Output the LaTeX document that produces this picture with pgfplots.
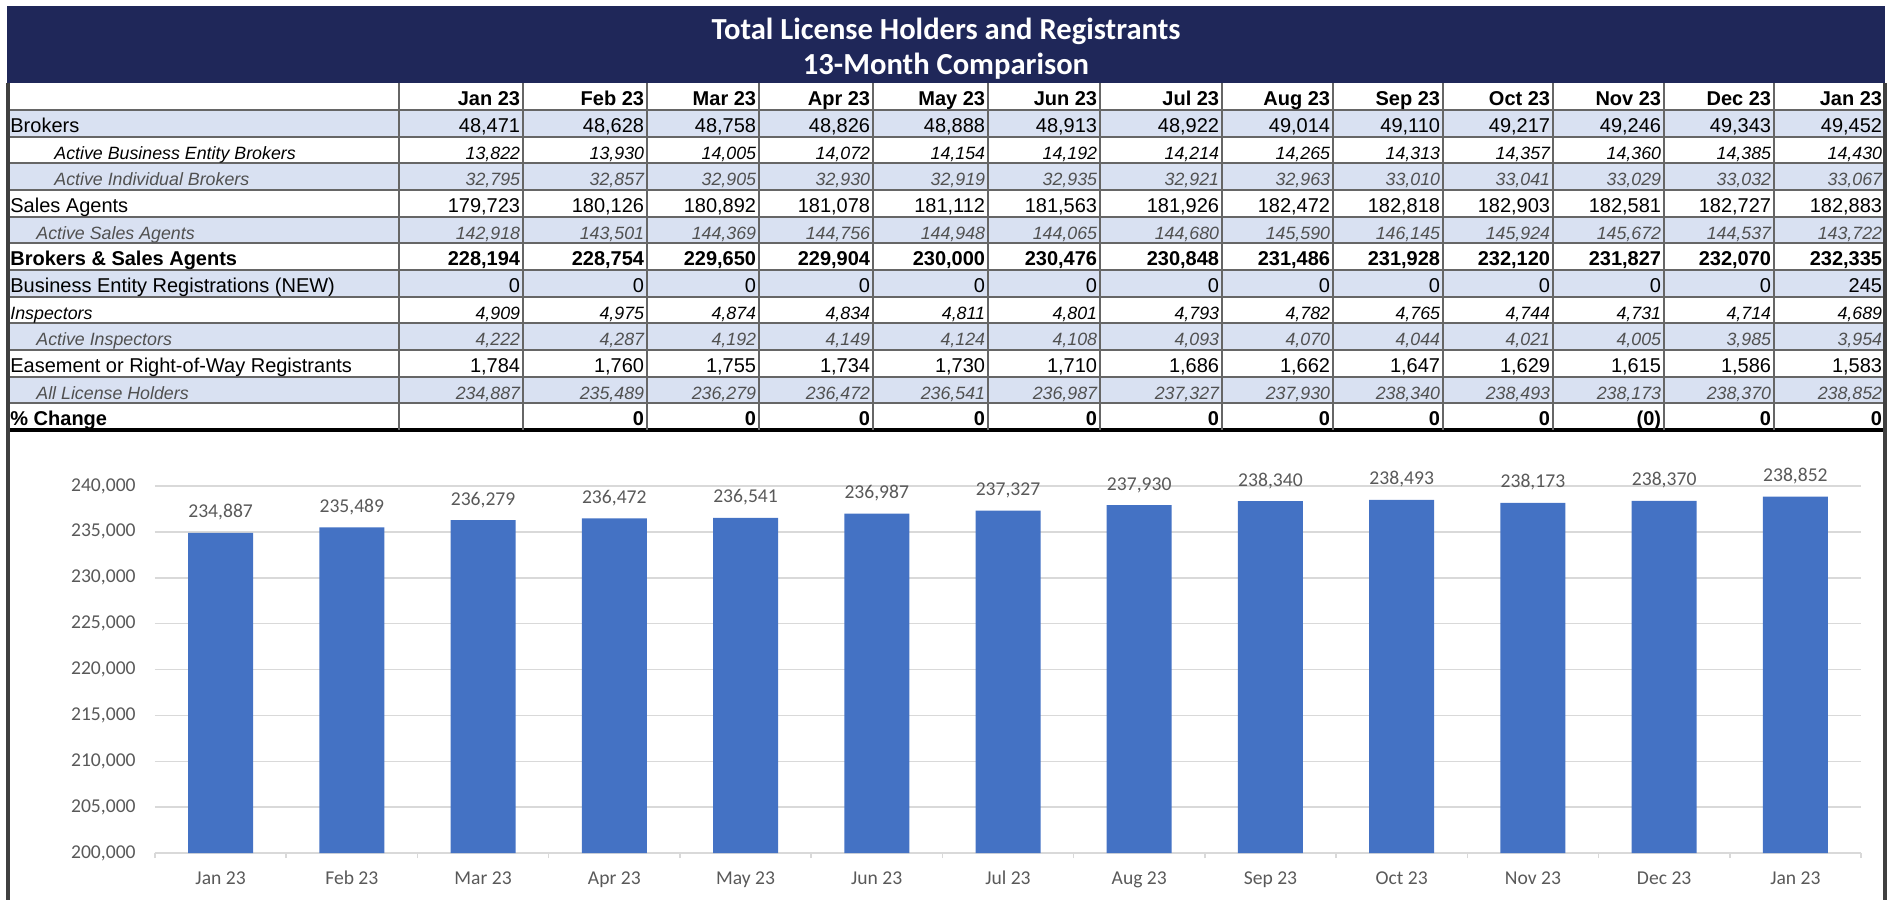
\documentclass[border=0pt]{standalone}
\usepackage{pgfplots}
\pgfplotsset{compat=1.18}
\usepackage{fontspec}
\setmainfont{Liberation Sans}
\newfontfamily\calibri{Carlito}
\definecolor{navy}{RGB}{31,39,89}
\definecolor{rowblue}{HTML}{D9E1F2}
\definecolor{tgray}{HTML}{595959}
\definecolor{igray}{HTML}{505050}
\definecolor{gridc}{HTML}{D9D9D9}
\definecolor{barblue}{HTML}{4472C4}
\definecolor{lin}{HTML}{666666}
\def\bigsz{\fontsize{10}{12}\selectfont}
\def\smsz{\fontsize{8.9}{10}\selectfont}
\def\colarr{{523,647,759,873,988,1100,1222,1333,1443,1553,1664,1774,1885}}
\newcommand\trow[5]{%
  \pgfmathsetmacro\yb{83.33+26.67*(#1+1)-4.3}%
  \node[anchor=base west,inner sep=0pt,#3] at (#2,\yb) {#4};%
  \foreach \v [count=\i from 0] in {#5} {%
    \pgfmathsetmacro\r{\colarr[\i]-2.5}%
    \node[anchor=base east,inner sep=0pt,#3] at (\r,\yb) {\v};%
  }%
}
\begin{document}
\begin{tikzpicture}
\useasboundingbox (0pt,0pt) rectangle (951pt,-450pt);
\begin{scope}[x=0.5pt,y=-0.5pt]
% title band
\fill[navy] (7,6) rectangle (1885,83.33);
\node[text=white,font=\calibri\bfseries\fontsize{15.3}{18}\selectfont,anchor=base,inner sep=0pt] at (946,39) {Total License Holders and Registrants};
\node[text=white,font=\calibri\bfseries\fontsize{15.3}{18}\selectfont,anchor=base,inner sep=0pt] at (946,74) {13-Month Comparison};
% row fills
\foreach \k in {1,3,5,7,9,11} {
  \fill[rowblue] (8,{83.33+26.67*\k}) rectangle (1885,{83.33+26.67*(\k+1)});
}
% horizontal lines
\foreach \k in {1,...,12} {
  \draw[lin,line width=1.1pt] (8,{83.33+26.67*\k}) -- (1885,{83.33+26.67*\k});
}
\draw[black,line width=1.6pt] (8,430) -- (1885,430);
% vertical lines
\foreach \xx in {399,523,647,759,873,988,1100,1222,1333,1443,1553,1664,1774} {
  \draw[lin,line width=1.1pt] (\xx,83.33) -- (\xx,430);
}
\draw[black!75,line width=2pt] (8,83.33) -- (8,900);
\draw[black!75,line width=2pt] (1885,83.33) -- (1885,900);
% rows
\trow{0}{10}{font=\bigsz\bfseries}{}{Jan 23,Feb 23,Mar 23,Apr 23,May 23,Jun 23,Jul 23,Aug 23,Sep 23,Oct 23,Nov 23,Dec 23,Jan 23}
\trow{1}{10}{font=\bigsz}{Brokers}{{48,471},{48,628},{48,758},{48,826},{48,888},{48,913},{48,922},{49,014},{49,110},{49,217},{49,246},{49,343},{49,452}}
\trow{2}{54}{font=\smsz\itshape}{Active Business Entity Brokers}{{13,822},{13,930},{14,005},{14,072},{14,154},{14,192},{14,214},{14,265},{14,313},{14,357},{14,360},{14,385},{14,430}}
\trow{3}{54}{font=\smsz\itshape,text=igray}{Active Individual Brokers}{{32,795},{32,857},{32,905},{32,930},{32,919},{32,935},{32,921},{32,963},{33,010},{33,041},{33,029},{33,032},{33,067}}
\trow{4}{10}{font=\bigsz}{Sales Agents}{{179,723},{180,126},{180,892},{181,078},{181,112},{181,563},{181,926},{182,472},{182,818},{182,903},{182,581},{182,727},{182,883}}
\trow{5}{36}{font=\smsz\itshape,text=igray}{Active Sales Agents}{{142,918},{143,501},{144,369},{144,756},{144,948},{144,065},{144,680},{145,590},{146,145},{145,924},{145,672},{144,537},{143,722}}
\trow{6}{10}{font=\bigsz\bfseries}{Brokers \& Sales Agents}{{228,194},{228,754},{229,650},{229,904},{230,000},{230,476},{230,848},{231,486},{231,928},{232,120},{231,827},{232,070},{232,335}}
\trow{7}{10}{font=\bigsz}{Business Entity Registrations (NEW)}{0,0,0,0,0,0,0,0,0,0,0,0,245}
\trow{8}{10}{font=\smsz\itshape}{Inspectors}{{4,909},{4,975},{4,874},{4,834},{4,811},{4,801},{4,793},{4,782},{4,765},{4,744},{4,731},{4,714},{4,689}}
\trow{9}{36}{font=\smsz\itshape,text=igray}{Active Inspectors}{{4,222},{4,287},{4,192},{4,149},{4,124},{4,108},{4,093},{4,070},{4,044},{4,021},{4,005},{3,985},{3,954}}
\trow{10}{10}{font=\bigsz}{Easement or Right-of-Way Registrants}{{1,784},{1,760},{1,755},{1,734},{1,730},{1,710},{1,686},{1,662},{1,647},{1,629},{1,615},{1,586},{1,583}}
\trow{11}{36}{font=\smsz\itshape,text=igray}{All License Holders}{{234,887},{235,489},{236,279},{236,472},{236,541},{236,987},{237,327},{237,930},{238,340},{238,493},{238,173},{238,370},{238,852}}
\trow{12}{10}{font=\bigsz\bfseries}{\% Change}{{},0,0,0,0,0,0,0,0,0,{(0)},0,0}
\end{scope}
\begin{axis}[
  at={(77.5pt,-426.5pt)}, anchor=south west,
  width=853pt, height=183.5pt, scale only axis,
  xmin=-0.5, xmax=12.5, ymin=200000, ymax=240000,
  ytick={200000,205000,...,240000},
  xtick={0,...,12},
  xticklabels={Jan 23,Feb 23,Mar 23,Apr 23,May 23,Jun 23,Jul 23,Aug 23,Sep 23,Oct 23,Nov 23,Dec 23,Jan 23},
  ymajorgrids, grid style={draw=gridc, line width=0.75pt},
  axis line style={draw=none},
  major tick length=0pt,
  tick pos=left,
  extra x ticks={-0.5,0.5,...,12.5},
  extra x tick labels={},
  extra x tick style={major tick length=2.5pt, tick align=outside, grid=none, tick style={draw=gridc, line width=0.75pt}},
  scaled y ticks=false,
  yticklabel style={anchor=east, inner sep=0pt, xshift=-9.5pt},
  xticklabel style={anchor=base, inner sep=0pt, yshift=-15.5pt},
  every tick label/.append style={font=\calibri\fontsize{9.8}{11}\selectfont, text=tgray},
  /pgf/number format/.cd, fixed, 1000 sep={,}, assume math mode=true, /pgfplots/.cd,
  ybar, bar width=32.5pt,
  nodes near coords,
  every node near coord/.append style={anchor=base, inner sep=0pt, yshift=7.5pt, font=\calibri\fontsize{9.8}{11}\selectfont, text=tgray},
]
\addplot[fill=barblue, draw=none] coordinates {
(0,234887) (1,235489) (2,236279) (3,236472) (4,236541) (5,236987) (6,237327)
(7,237930) (8,238340) (9,238493) (10,238173) (11,238370) (12,238852)};
\end{axis}
\end{tikzpicture}
\end{document}
